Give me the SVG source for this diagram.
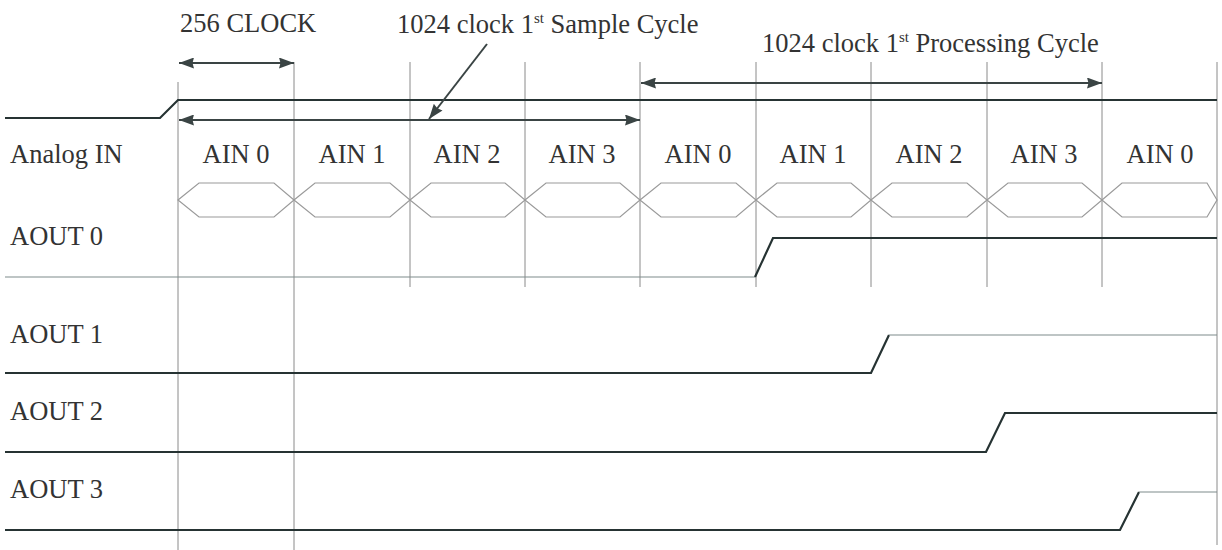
<svg xmlns="http://www.w3.org/2000/svg" width="1222" height="550" viewBox="0 0 1222 550">
<style>
text{font-family:"Liberation Serif","Times New Roman",serif;font-size:26.5px;fill:#333}
.grid{stroke:#8a8a8a;stroke-width:1;fill:none}
.hex{stroke:#9a9a9a;stroke-width:1.2;fill:none}
.sig{stroke:#263333;stroke-width:2.2;fill:none}
.thin{stroke:#7f8c8c;stroke-width:1.2;fill:none}
.arr{stroke:#3a4444;stroke-width:2;fill:none}
.ain{text-anchor:middle}
.sup{font-size:15px}
</style>
<defs>
<marker id="ah" viewBox="0 0 15 11" refX="15" refY="5.5" markerWidth="15" markerHeight="11" markerUnits="userSpaceOnUse" orient="auto-start-reverse">
<path d="M0,0 L15,5.5 L0,11 L1.5,5.5 Z" fill="#3a4444"/>
</marker>
</defs>
<g id="grid">
<line class="grid" x1="178" y1="82" x2="178" y2="550"/>
<line class="grid" x1="294" y1="62" x2="294" y2="550"/>
<line class="grid" x1="410" y1="62" x2="410" y2="287"/>
<line class="grid" x1="525" y1="62" x2="525" y2="287"/>
<line class="grid" x1="640" y1="62" x2="640" y2="287"/>
<line class="grid" x1="756" y1="62" x2="756" y2="287"/>
<line class="grid" x1="871" y1="62" x2="871" y2="287"/>
<line class="grid" x1="987" y1="62" x2="987" y2="287"/>
<line class="grid" x1="1102" y1="62" x2="1102" y2="287"/>
<line class="grid" x1="1217" y1="62" x2="1217" y2="545"/>
</g>
<g id="labels">
<text x="180" y="32">256 CLOCK</text>
<text x="397" y="33">1024 clock 1<tspan class="sup" dy="-10">st</tspan><tspan dy="10"> Sample Cycle</tspan></text>
<text x="762" y="52">1024 clock 1<tspan class="sup" dy="-10">st</tspan><tspan dy="10"> Processing Cycle</tspan></text>
<text x="10" y="163">Analog IN</text>
<text x="10" y="245">AOUT 0</text>
<text x="10" y="343">AOUT 1</text>
<text x="10" y="420">AOUT 2</text>
<text x="10" y="498">AOUT 3</text>
</g>
<g id="analog-in">
<polygon class="hex" points="178,200 199,183 274,183 294,200 274,217 199,217"/>
<polygon class="hex" points="294,200 315,183 390,183 410,200 390,217 315,217"/>
<polygon class="hex" points="410,200 431,183 505,183 525,200 505,217 431,217"/>
<polygon class="hex" points="525,200 546,183 620,183 640,200 620,217 546,217"/>
<polygon class="hex" points="640,200 661,183 736,183 756,200 736,217 661,217"/>
<polygon class="hex" points="756,200 777,183 851,183 871,200 851,217 777,217"/>
<polygon class="hex" points="871,200 892,183 967,183 987,200 967,217 892,217"/>
<polygon class="hex" points="987,200 1008,183 1082,183 1102,200 1082,217 1008,217"/>
<polygon class="hex" points="1102,200 1122,183 1207,183 1217,200 1207,217 1122,217"/>
<text class="ain" x="236" y="163">AIN 0</text>
<text class="ain" x="352" y="163">AIN 1</text>
<text class="ain" x="467" y="163">AIN 2</text>
<text class="ain" x="582" y="163">AIN 3</text>
<text class="ain" x="698" y="163">AIN 0</text>
<text class="ain" x="813" y="163">AIN 1</text>
<text class="ain" x="929" y="163">AIN 2</text>
<text class="ain" x="1044" y="163">AIN 3</text>
<text class="ain" x="1160" y="163">AIN 0</text>
</g>
<g id="signals">
<polyline class="sig" points="5,118 160,118 178,100 1217,100"/>
<polyline class="thin" points="5,277 755,277"/>
<polyline class="sig" points="755,277 773,238 1217,238"/>
<polyline class="sig" points="5,373 871,373 889,335"/>
<polyline class="thin" points="889,335 1217,335"/>
<polyline class="sig" points="5,452 986,452 1005,413 1217,413"/>
<polyline class="sig" points="5,530 1120,530 1139,492"/>
<polyline class="thin" points="1139,492 1217,492"/>
</g>
<g id="connectors">
<line class="arr" x1="179" y1="63" x2="294" y2="63" marker-start="url(#ah)" marker-end="url(#ah)"/>
<line class="arr" x1="179" y1="120" x2="640" y2="120" marker-start="url(#ah)" marker-end="url(#ah)"/>
<line class="arr" x1="641" y1="83" x2="1102" y2="83" marker-start="url(#ah)" marker-end="url(#ah)"/>
<line class="arr" x1="487" y1="44" x2="429" y2="119" marker-end="url(#ah)"/>
</g>
</svg>
